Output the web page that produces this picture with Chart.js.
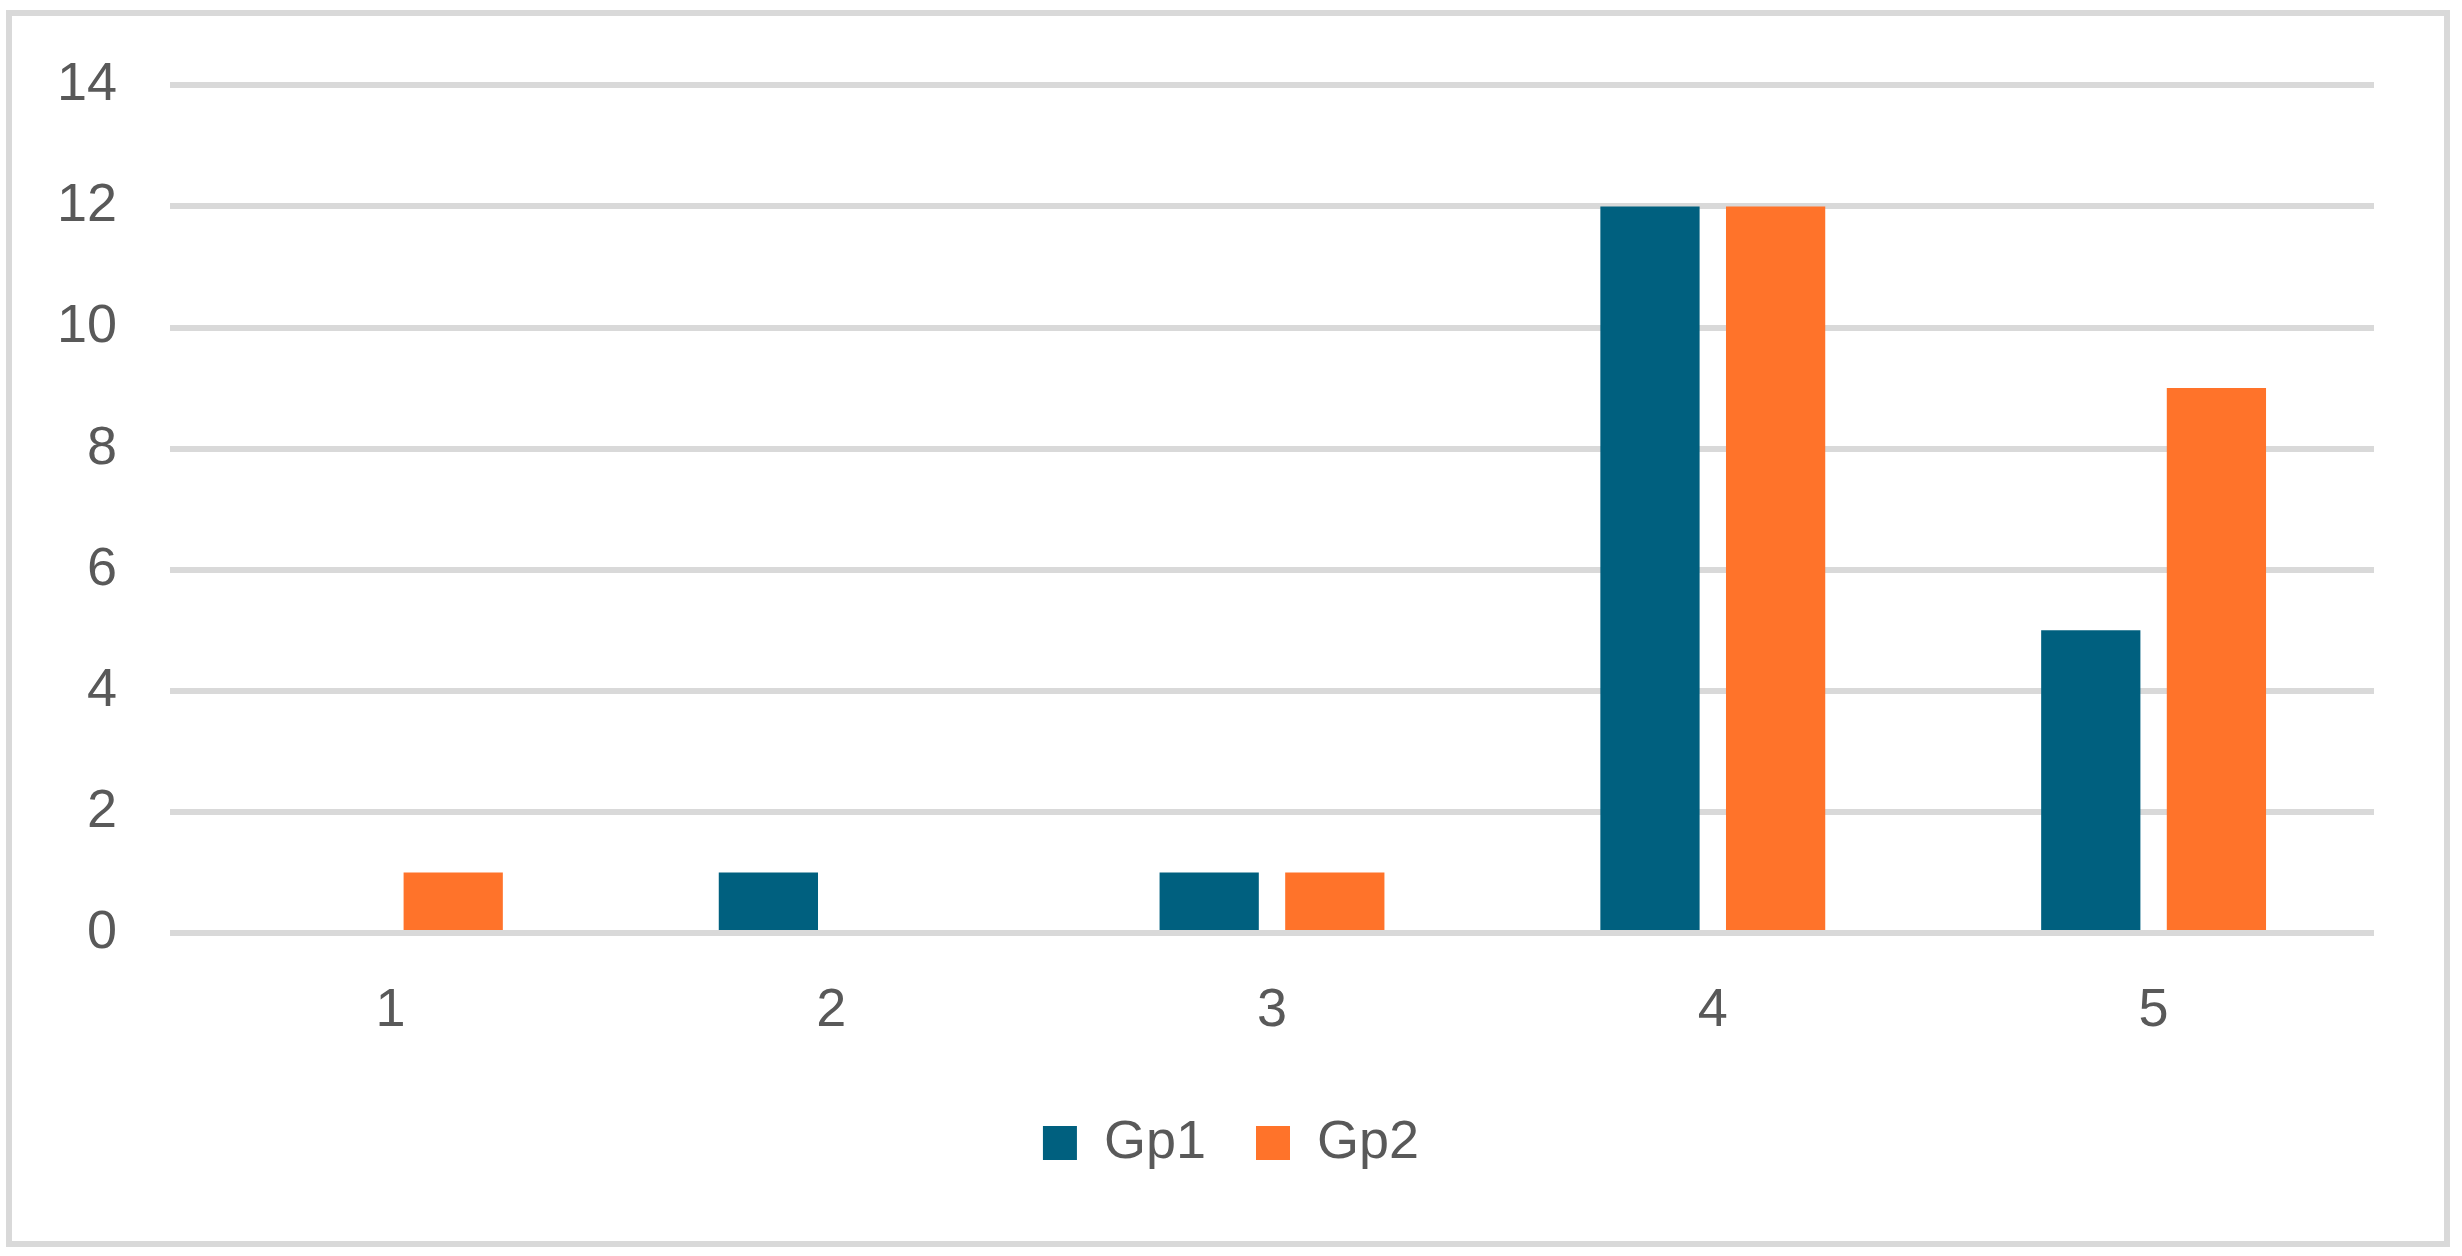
<!DOCTYPE html>
<html>
<head>
<meta charset="utf-8">
<script src="https://cdn.jsdelivr.net/npm/chart.js@4.4.1/dist/chart.umd.min.js"></script>
<style>
    html, body { margin: 0; padding: 0; background: #ffffff; }
    #wrap { position: relative; width: 2462px; height: 1256px; }
    #frame {
        position: absolute; left: 6px; top: 10px; width: 2444px; height: 1237px;
        border: 6px solid #d9d9d9; box-sizing: border-box; pointer-events: none;
    }
</style>
</head>
<body>
<div id="wrap">
    <canvas id="groupsChart" width="2462" height="1256"></canvas>
    <div id="frame"></div>
</div>
<script>
// Данные графика
const categories = ['1', '2', '3', '4', '5'];
const gp1Values = [0, 1, 1, 12, 5];
const gp2Values = [1, 0, 1, 12, 9];
const seriesNames = ['Gp1', 'Gp2'];
const yTicks = [0, 2, 4, 6, 8, 10, 12, 14];

// Общие настройки
const chartConfig = {
    colors: {
        gp1: '#00607F',
        gp2: '#FF732A',
        grid: '#D9D9D9',
        text: '#595959'
    },
    font: 'Liberation Sans, Arial, sans-serif',
    fontSize: 54
};

document.addEventListener('DOMContentLoaded', () => {
    initializeChart();
});

function initializeChart() {
    const canvas = document.getElementById('groupsChart');
    Chart.defaults.font.family = chartConfig.font;
    Chart.defaults.color = chartConfig.colors.text;

    new Chart(canvas.getContext('2d'), {
        type: 'bar',
        data: {
            labels: categories,
            datasets: [
                { label: seriesNames[0], data: gp1Values, backgroundColor: chartConfig.colors.gp1 },
                { label: seriesNames[1], data: gp2Values, backgroundColor: chartConfig.colors.gp2 }
            ]
        },
        options: {
            responsive: false,
            animation: false,
            devicePixelRatio: 1,
            categoryPercentage: 0.57,
            barPercentage: 0.79,
            layout: {
                padding: { top: 85, right: 0, bottom: 76, left: 0 }
            },
            plugins: {
                tooltip: { enabled: false },
                legend: {
                    position: 'bottom',
                    labels: {
                        boxWidth: 34,
                        boxHeight: 34,
                        padding: 50,
                        font: { size: chartConfig.fontSize }
                    }
                }
            },
            scales: {
                x: {
                    grid: { display: false },
                    border: { display: false },
                    ticks: { padding: 38, font: { size: chartConfig.fontSize } },
                    afterFit: (scale) => { scale.height = 133; }
                },
                y: {
                    min: 0,
                    max: 14,
                    afterBuildTicks: (scale) => {
                        scale.ticks = yTicks.map(v => ({ value: v }));
                    },
                    grid: {
                        color: chartConfig.colors.grid,
                        lineWidth: 6,
                        drawTicks: false
                    },
                    border: { display: false },
                    ticks: { padding: 53, font: { size: chartConfig.fontSize } },
                    afterFit: (scale) => { scale.width = 170; }
                },
                // пустая ось справа — отступ, чтобы легенда была по центру
                spacer: {
                    type: 'linear',
                    position: 'right',
                    grid: { display: false },
                    border: { display: false },
                    ticks: { display: false },
                    afterFit: (scale) => { scale.width = 88; }
                }
            }
        }
    });
}
</script>
</body>
</html>
